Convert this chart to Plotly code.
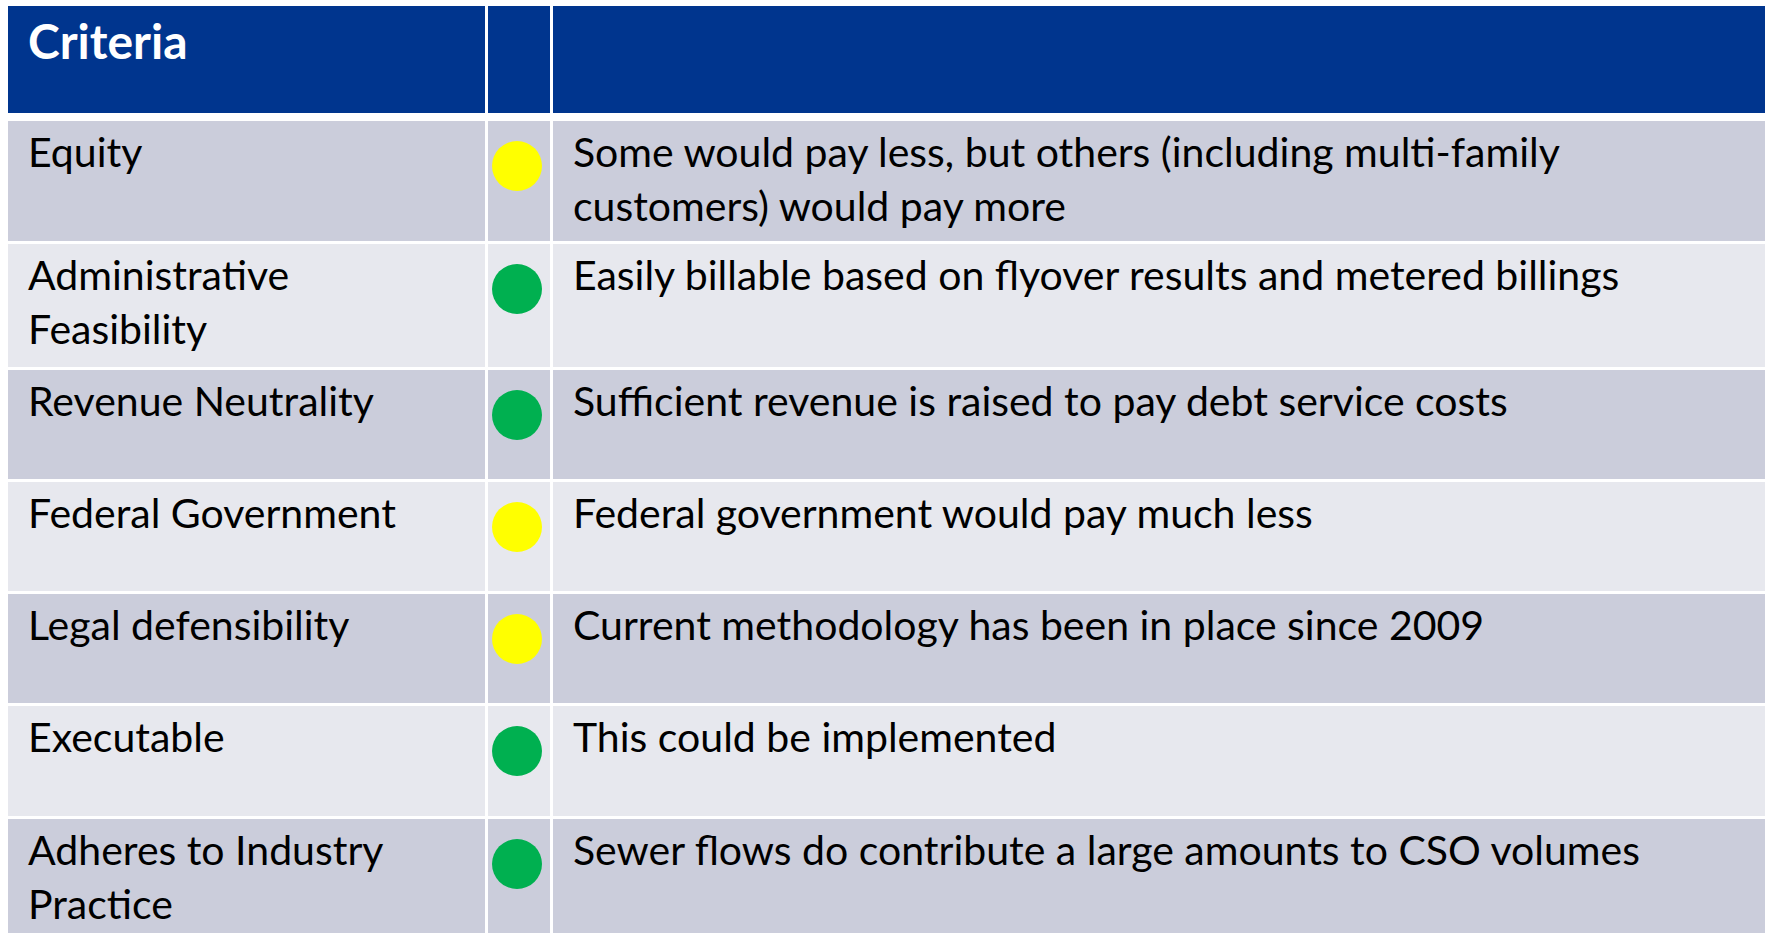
import plotly.graph_objects as go

# table content
criteria = [
    "Equity",
    "Administrative<br>Feasibility",
    "Revenue Neutrality",
    "Federal Government",
    "Legal defensibility",
    "Executable",
    "Adheres to Industry<br>Practice",
]
ratings = ["yellow", "green", "green", "yellow", "yellow", "green", "green"]
comments = [
    "Some would pay less, but others (including multi-family<br>customers) would pay more",
    "Easily billable based on flyover results and metered billings",
    "Sufficient revenue is raised to pay debt service costs",
    "Federal government would pay much less",
    "Current methodology has been in place since 2009",
    "This could be implemented",
    "Sewer flows do contribute a large amounts to CSO volumes",
]
header = ["Criteria", "", ""]

COLORS = {
    "header": "#00358E",
    "band_dark": "#CBCDDB",
    "band_light": "#E7E8EE",
    "yellow": "#FFFF00",
    "green": "#00B050",
    "text": "#000000",
}

W, H = 1765, 933
FONT = "Lato"
FONT_SIZE = 41
HEADER_SIZE = 48
LINE_GAP = 54

COLS = [(8, 485), (488, 550), (553, 1765)]
HEADER_TOP, HEADER_BOTTOM = 6, 113
FIRST_ROW_TOP = 121
ROW_HEIGHTS = [120, 123, 109, 109, 109, 110, 125]
ROW_GAP = 3
TEXT_PAD = 20
TEXT_OFFSET = 36
DOT_OFFSET = 45
DOT_X = 517


def row_bounds():
    tops, y = [], FIRST_ROW_TOP
    for h in ROW_HEIGHTS:
        tops.append(y)
        y += h + ROW_GAP
    return tops


def build_table() -> go.Figure:
    tops = row_bounds()
    fig = go.Figure()

    # cell backgrounds: one horizontal bar per cell
    centers = [(HEADER_TOP + HEADER_BOTTOM) / 2] + [t + h / 2 for t, h in zip(tops, ROW_HEIGHTS)]
    heights = [HEADER_BOTTOM - HEADER_TOP] + ROW_HEIGHTS
    fills = [COLORS["header"]] + [
        COLORS["band_dark"] if i % 2 == 0 else COLORS["band_light"] for i in range(len(criteria))
    ]
    for left, right in COLS:
        fig.add_trace(go.Bar(
            y=centers,
            x=[right - left] * len(centers),
            base=[left] * len(centers),
            width=heights,
            orientation="h",
            marker=dict(color=fills, line=dict(width=0)),
            hoverinfo="skip",
            showlegend=False,
        ))

    # header text
    fig.add_trace(go.Scatter(
        x=[COLS[0][0] + TEXT_PAD],
        y=[HEADER_TOP + 41],
        text=[f"<b>{header[0]}</b>"],
        mode="text",
        textposition="middle right",
        textfont=dict(family=FONT, size=HEADER_SIZE, color="white"),
        hoverinfo="skip",
        showlegend=False,
    ))

    # body text, one point per line
    xs, ys, labels = [], [], []
    for col, values in ((0, criteria), (2, comments)):
        for top, value in zip(tops, values):
            for k, line in enumerate(value.split("<br>")):
                xs.append(COLS[col][0] + TEXT_PAD)
                ys.append(top + TEXT_OFFSET + k * LINE_GAP)
                labels.append(line)
    fig.add_trace(go.Scatter(
        x=xs, y=ys, text=labels,
        mode="text",
        textposition="middle right",
        textfont=dict(family=FONT, size=FONT_SIZE, color=COLORS["text"]),
        hoverinfo="skip",
        showlegend=False,
    ))

    # rating dots
    fig.add_trace(go.Scatter(
        x=[DOT_X] * len(ratings),
        y=[t + DOT_OFFSET for t in tops],
        mode="markers",
        marker=dict(size=50, color=[COLORS[r] for r in ratings], line=dict(width=0)),
        hoverinfo="skip",
        showlegend=False,
    ))

    fig.update_layout(
        width=W, height=H,
        margin=dict(l=0, r=0, t=0, b=0),
        paper_bgcolor="white",
        plot_bgcolor="white",
        barmode="overlay",
        bargap=0,
        xaxis=dict(range=[0, W], visible=False, fixedrange=True),
        yaxis=dict(range=[H, 0], visible=False, fixedrange=True),
    )
    return fig


fig = build_table()
fig.write_html("out.html", post_script="document.body.style.margin='0';", config={"displayModeBar": False})
